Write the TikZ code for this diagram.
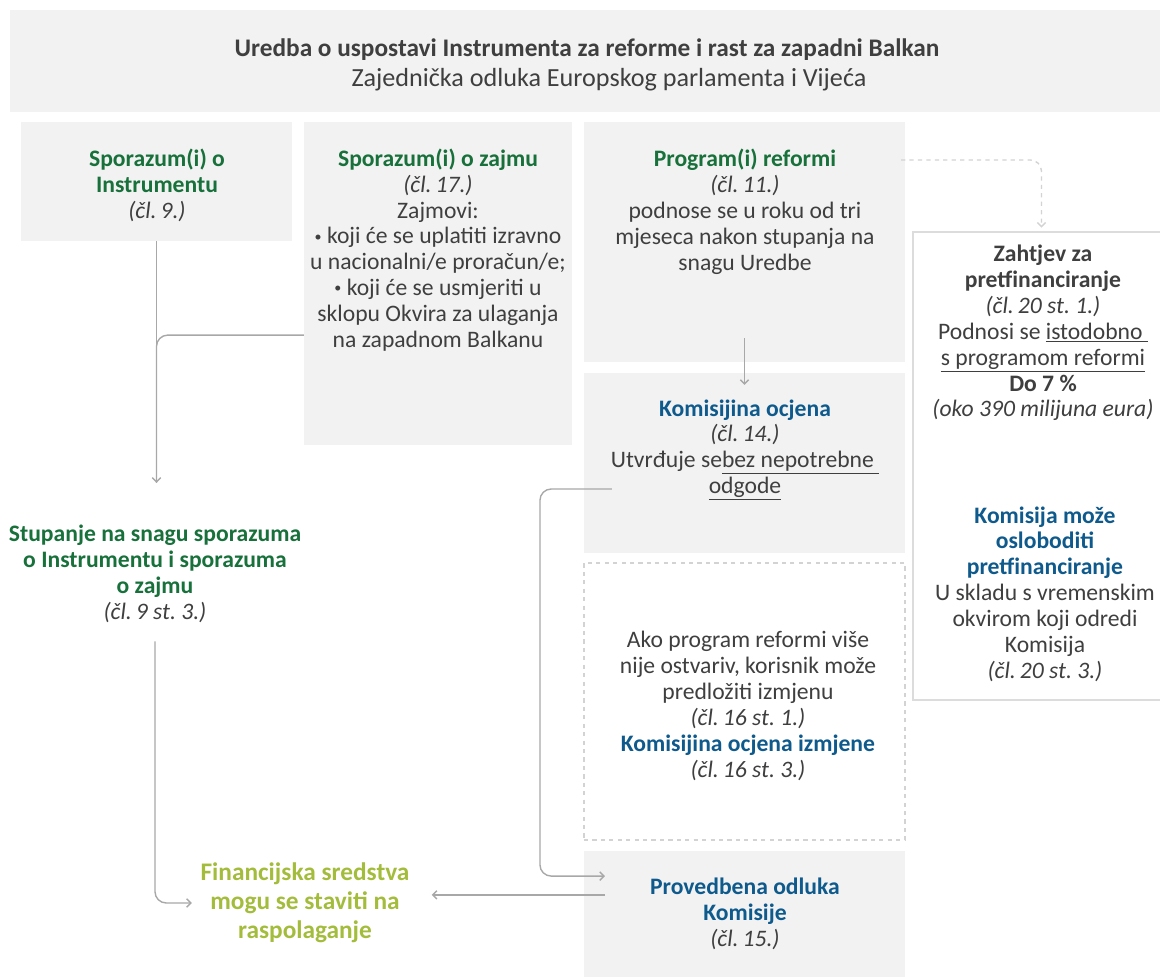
\documentclass[tikz,border=0pt]{standalone}
\usepackage{xcolor}
\usepackage{fontspec}
\setmainfont{Carlito}
\usepackage{tikz}
\usetikzlibrary{positioning}
\usetikzlibrary{arrows.meta}

\definecolor{boxgray}{HTML}{F2F2F2}
\definecolor{txtgray}{HTML}{3F3F3F}
\definecolor{linegray}{HTML}{A8A8A8}
\definecolor{dashgray}{HTML}{D3D3D3}
\definecolor{rimgray}{HTML}{DCDCDC}
\definecolor{eugreen}{HTML}{18703B}
\definecolor{eublue}{HTML}{0F5A8C}
\definecolor{limegreen}{HTML}{A3BC3C}

\newcommand{\grn}[1]{\textcolor{eugreen}{\textbf{#1}}}
\newcommand{\blu}[1]{\textcolor{eublue}{\textbf{#1}}}
\newcommand{\clref}[1]{\textit{(čl.\,#1)}}
\newcommand{\bul}{\raisebox{0.12em}{\fontsize{10}{10}\selectfont•}}
\frenchspacing

\begin{document}
\begin{tikzpicture}
    [%%%%%%%%%%%%%%%%%%%%%%%%%%%%%%
        x=0.025cm, y=-0.025cm,
        every node/.style={font=\fontsize{16.8}{18.4}\selectfont, text=txtgray, align=center, inner sep=0pt},
        gbox/.style={rectangle, fill=boxgray, outer sep=0pt},
        wbox/.style={rectangle, fill=white, draw=rimgray, line width=1.8pt, outer sep=0pt},
        dbox/.style={rectangle, fill=white, draw=dashgray, dashed, line width=1.5pt, outer sep=0pt},
        conn/.style={draw=linegray, line width=1pt, rounded corners=8pt},
        arr/.style={conn, -{Straight Barb[length=3pt,width=6pt]}},
        darr/.style={draw=dashgray, line width=1pt, dashed, rounded corners=8pt, -{Straight Barb[length=3pt,width=6pt]}}
    ]%%%%%%%%%%%%%%%%%%%%%%%%%%%%%%

\useasboundingbox (0,0) rectangle (1160,977);

% boxes
\node[gbox, minimum width=29cm, minimum height=2.55cm] (head) at (590,61) {};
\node[gbox, minimum width=6.775cm, minimum height=2.975cm] (boxA) at (156.5,181.5) {};
\node[gbox, minimum width=6.7cm, minimum height=8.075cm] (boxB) at (438,283.5) {};
\node[gbox, minimum width=8.025cm, minimum height=6cm] (boxC) at (744.5,242) {};
\node[gbox, minimum width=8.025cm, minimum height=4.5cm] (boxD) at (744.5,463) {};
\node[dbox, minimum width=8.025cm, minimum height=6.925cm] (boxE) at (744.5,701.5) {};
\node[gbox, minimum width=8.025cm, minimum height=3.475cm] (boxF) at (744.5,920.5) {};
\node[wbox, minimum width=6.425cm, minimum height=11.7cm] (boxG) at (1041.5,466) {};

% texts
\node[font=\fontsize{18}{19}\selectfont\bfseries] (title) at (587,50) {Uredba o uspostavi Instrumenta za reforme i rast za zapadni Balkan};
\node[font=\fontsize{18.6}{19}\selectfont] (subtitle) at (609,80) {Zajednička odluka Europskog parlamenta i Vijeća};

\node (tA) at (157,185) {\grn{Sporazum(i) o}\\ \grn{Instrumentu}\\ \clref{9.}};
\node (tB) at (438,250) {\grn{Sporazum(i) o zajmu}\\ \clref{17.}\\ Zajmovi:\\ \bul\ koji će se uplatiti izravno\\ u nacionalni/e proračun/e;\\ \bul\ koji će se usmjeriti u\\ sklopu Okvira za ulaganja\\ na zapadnom Balkanu};
\node (tC) at (745,212) {\grn{Program(i) reformi}\\ \clref{11.}\\ podnose se u roku od tri\\ mjeseca nakon stupanja na\\ snagu Uredbe};
\node (tD) at (745,450) {\blu{Komisijina ocjena}\\ \clref{14.}\\ Utvrđuje se\underline{bez nepotrebne }\\ \underline{odgode}};
\node (tE) at (748,706) {Ako program reformi više\\ nije ostvariv, korisnik može\\ predložiti izmjenu\\ \clref{16 st. 1.}\\ \blu{Komisijina ocjena izmjene}\\ \clref{16 st. 3.}};
\node (tF) at (745,914) {\blu{Provedbena odluka}\\ \blu{Komisije}\\ \clref{15.}};
\node (tG) at (1043,333) {\textbf{Zahtjev za}\\ \textbf{pretfinanciranje}\\ \clref{20 st. 1.}\\ Podnosi se \underline{istodobno }\\ \underline{s programom reformi}\\ \textbf{Do 7 \%}\\ \textit{(oko 390 milijuna eura)}};
\node (tG2) at (1045,594) {\blu{Komisija može}\\ \blu{osloboditi}\\ \blu{pretfinanciranje}\\ U skladu s vremenskim\\ okvirom koji odredi\\ Komisija\\ \clref{20 st. 3.}};
\node (stupanje) at (155,574) {\grn{Stupanje na snagu sporazuma}\\ \grn{o Instrumentu i sporazuma}\\ \grn{o zajmu}\\ \clref{9 st. 3.}};
\node[font=\fontsize{18}{20.5}\selectfont\bfseries, text=limegreen] (financ) at (305,903) {Financijska sredstva\\ mogu se staviti na\\ raspolaganje};

% connectors
\draw[arr, shorten >=30pt] (boxA.south) -- (boxA.south |- stupanje.north);
\draw[conn, shorten >=30pt] ([yshift=-1.29cm]boxB.west) -| (boxA.south |- stupanje.north);
\draw[arr, shorten <=13pt, shorten >=6pt] (stupanje.south) |- (financ.west);
\draw[arr] ([yshift=0.6cm]boxC.south) -- ([yshift=-0.3cm]boxD.north);
\draw[arr] ([xshift=0.7cm,yshift=-0.65cm]boxD.west) -- ++(-72,0) |- ([xshift=0.525cm,yshift=1.11cm]boxF.west);
\coordinate (fstart) at ([xshift=0.525cm,yshift=0.64cm]boxF.west);
\coordinate (fend) at ([xshift=0.55cm]financ.east);
\draw[arr] (fstart) -- (fend |- fstart);
\draw[darr, shorten >=3pt] ([xshift=-0.1cm,yshift=2.05cm]boxC.east) -| (boxG.north);

\end{tikzpicture}
\end{document}
